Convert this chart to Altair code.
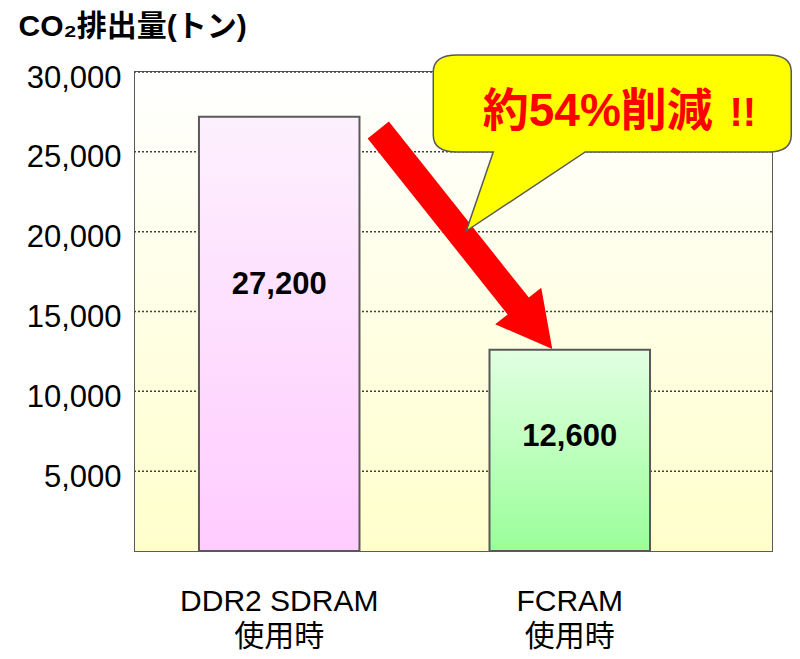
import altair as alt
import pandas as pd

# ---------------- data ----------------
categories = ["DDR2 SDRAM\n使用時", "FCRAM\n使用時"]
co2_tons = [27200, 12600]
value_labels = ["27,200", "12,600"]
y_tick_values = [5000, 10000, 15000, 20000, 25000, 30000]
y_title = "CO₂排出量(トン)"
callout_main = "約54%削減"
callout_bang = "!!"
Y_MAX = 30000

# ---------------- style ----------------
FONT = "Liberation Sans, Noto Sans CJK JP"
W, H = 637, 479
EDGE = "#595959"

df = pd.DataFrame({"category": categories, "co2": co2_tons, "label": value_labels})
grid_df = pd.DataFrame({"tick": y_tick_values})


def grad(top, bottom):
    return alt.Gradient(
        gradient="linear", x1=0, x2=0, y1=0, y2=1,
        stops=[alt.GradientStop(color=top, offset=0),
               alt.GradientStop(color=bottom, offset=1)],
    )


def shape_path(pts_cmds, k=100.0):
    """Build a symbol path (pixel offsets relative to anchor) scaled for size=(2k)^2."""
    out = []
    for cmd, *nums in pts_cmds:
        out.append(cmd + " ".join(f"{n / k:.4f}" for n in nums))
    return "".join(out)


# red arrow (pixel offsets from the top-centre of the FCRAM bar)
arrow_path = shape_path([
    ("M", -180.9, -228.2), ("L", -40.9, -52.2), ("L", -28.5, -62.1),
    ("L", -17.5, -0.8), ("L", -74.6, -25.5), ("L", -62.1, -35.4),
    ("L", -202.1, -211.4), ("Z",),
])

# speech bubble (pixel offsets from FCRAM centre at the top of the axis)
bubble_path = shape_path([
    ("M", -112.5, -17), ("L", 198.5, -17), ("Q", 221.5, -17, 221.5, 0),
    ("L", 221.5, 63), ("Q", 221.5, 80, 198.5, 80), ("L", 15.5, 80),
    ("L", -103.5, 159), ("L", -76.5, 80), ("L", -112.5, 80),
    ("Q", -136.5, 80, -136.5, 63), ("L", -136.5, 0),
    ("Q", -136.5, -17, -112.5, -17), ("Z",),
])

x_enc = alt.X(
    "category:N", sort=categories,
    scale=alt.Scale(paddingInner=0.4475, paddingOuter=0.32, align=0.344),
    axis=alt.Axis(
        title=None, labelExpr="split(datum.label, '\\n')", labelAngle=0,
        labelBaseline="top", labelPadding=35.3, labelLineHeight=35,
        labelFontSize=30, labelFont=FONT, labelColor="#000000", labelLimit=0,
        ticks=False, domain=False, grid=False,
    ),
)

y_scale = alt.Scale(domain=[0, Y_MAX], nice=False, zero=True)
y_axis = alt.Axis(
    values=y_tick_values, labelExpr="format(datum.value, ',')",
    grid=False, ticks=False, domain=False,
    labelFontSize=31, labelFont=FONT, labelColor="#000000", labelPadding=14,
    labelOffset=6, labelBaseline="middle",
    title=y_title, titleAngle=0, titleX=-117, titleY=-37, titleAlign="left",
    titleBaseline="alphabetic", titleFontSize=30, titleFontWeight="bold",
    titleFont=FONT, titleColor="#000000", titleLimit=0,
)


def y_of(field):
    return alt.Y(f"{field}:Q", scale=y_scale, axis=y_axis)


base = alt.Chart(df)

bg = base.mark_rect(color=grad("#ffffff", "#ffffcc"), strokeWidth=0).encode(
    x=alt.value(0), x2=alt.value("width"), y=alt.value(0), y2=alt.value("height")
)

grid = alt.Chart(grid_df).mark_rule(
    color="#404040", strokeDash=[2, 2], strokeWidth=1.5
).encode(y=y_of("tick"))

layers = [bg, grid]

bar_styles = [("#fdf0fe", "#ffccff", -48.6), ("#e2ffe2", "#99ff99", -13.6)]
for cat, (top_c, bot_c, shift) in zip(categories, bar_styles):
    sub = base.transform_filter(alt.FieldEqualPredicate(field="category", equal=cat))
    layers.append(
        sub.mark_bar(color=grad(top_c, bot_c), stroke=EDGE, strokeWidth=2).encode(
            x=x_enc, y=y_of("co2")
        )
    )
    layers.append(
        sub.transform_calculate(mid="datum.co2 / 2").mark_text(
            font=FONT, fontSize=31, fontWeight="bold", color="#000000",
            baseline="middle", dy=shift,
        ).encode(x=x_enc, y=y_of("mid"), text="label:N")
    )

fc = base.transform_filter(
    alt.FieldEqualPredicate(field="category", equal=categories[1])
)

arrow = fc.mark_point(
    shape=arrow_path, size=40000, filled=True, color="#ff0000", opacity=1,
    strokeWidth=0,
).encode(x=x_enc, y=y_of("co2"))

fc_top = fc.transform_calculate(top=str(Y_MAX))

bubble = fc_top.mark_point(
    shape=bubble_path, size=40000, filled=True, color="#ffff00", opacity=1,
    stroke=EDGE, strokeWidth=1.5,
).encode(x=x_enc, y=y_of("top"))

callout1 = fc_top.mark_text(
    text=callout_main, font=FONT, fontSize=46, fontWeight="bold",
    color="#ff0000", align="center", baseline="alphabetic", dx=28, dy=53.5,
).encode(x=x_enc, y=y_of("top"))

callout2 = fc_top.mark_text(
    text=callout_bang, font=FONT, fontSize=40, fontWeight="bold",
    color="#ff0000", align="center", baseline="alphabetic", dx=173, dy=53.5,
).encode(x=x_enc, y=y_of("top"))

layers += [arrow, bubble, callout1, callout2]

chart = (
    alt.layer(*layers)
    .properties(
        width=W, height=H,
        autosize=alt.AutoSizeParams(type="none"),
        padding={"left": 127, "top": 64, "right": 20, "bottom": 100},
        background="#ffffff",
    )
    .configure_view(stroke=EDGE, strokeWidth=2)
)

chart.save("out.html", embed_options={"renderer": "svg", "actions": False})
